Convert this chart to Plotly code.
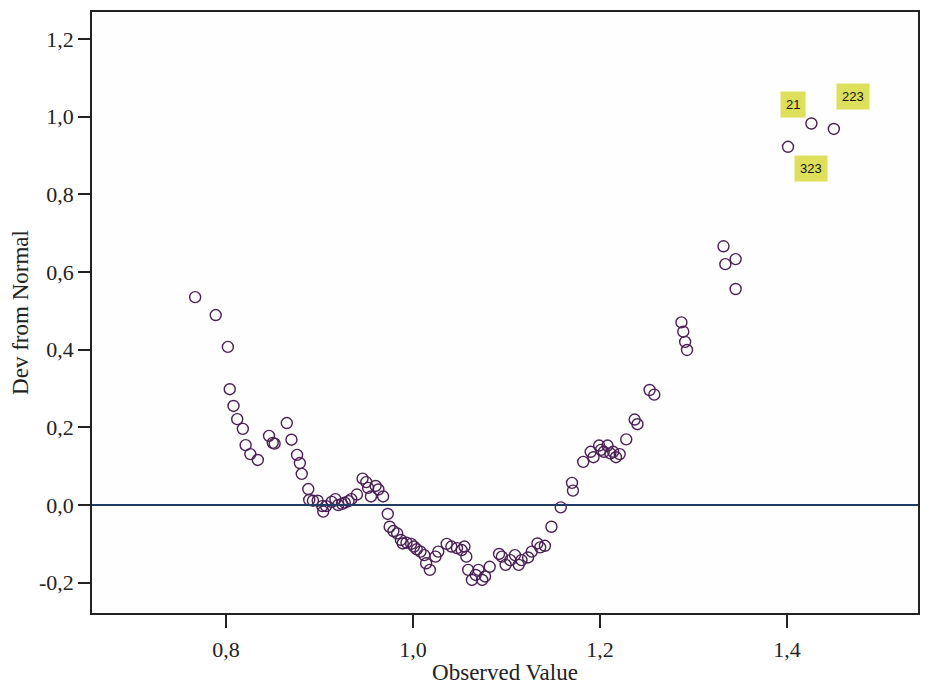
import plotly.graph_objects as go

obs_x = [0.767, 0.789, 0.802, 0.804, 0.808, 0.812, 0.818, 0.821, 0.826, 0.834,
         0.846, 0.850, 0.852, 0.865, 0.870, 0.876, 0.879, 0.881,
         0.888, 0.889, 0.893, 0.898, 0.903, 0.904, 0.907, 0.913, 0.917, 0.920,
         0.924, 0.927, 0.931, 0.934, 0.940, 0.946, 0.950, 0.952, 0.955, 0.960,
         0.963, 0.968, 0.973, 0.975, 0.979, 0.983, 0.987, 0.989, 0.993, 0.998,
         1.001, 1.004, 1.008, 1.012, 1.014, 1.018, 1.024, 1.027,
         1.036, 1.041, 1.047, 1.052, 1.055, 1.057, 1.059, 1.063, 1.067, 1.070,
         1.074, 1.077, 1.082, 1.092, 1.095, 1.099, 1.104, 1.109, 1.113, 1.116,
         1.123, 1.127, 1.133, 1.136, 1.141, 1.148, 1.158,
         1.171, 1.170, 1.182, 1.190, 1.193, 1.199, 1.201, 1.204, 1.208, 1.211,
         1.214, 1.217, 1.221, 1.228, 1.237, 1.240, 1.253, 1.258,
         1.287, 1.289, 1.291, 1.293, 1.332, 1.334, 1.345, 1.345,
         1.401, 1.426, 1.450]
dev_y = [0.535, 0.489, 0.407, 0.298, 0.255, 0.221, 0.196, 0.154, 0.131, 0.116,
         0.178, 0.160, 0.158, 0.211, 0.168, 0.129, 0.108, 0.080,
         0.041, 0.013, 0.011, 0.011, -0.003, -0.017, -0.003, 0.008, 0.015, 0.000,
         0.003, 0.006, 0.010, 0.015, 0.027, 0.068, 0.059, 0.044, 0.022, 0.049,
         0.040, 0.022, -0.023, -0.056, -0.067, -0.073, -0.090, -0.099, -0.097, -0.100,
         -0.107, -0.114, -0.120, -0.129, -0.150, -0.167, -0.133, -0.120,
         -0.100, -0.107, -0.111, -0.116, -0.107, -0.133, -0.167, -0.193, -0.180, -0.167,
         -0.193, -0.184, -0.159, -0.126, -0.133, -0.154, -0.142, -0.129, -0.154, -0.142,
         -0.135, -0.120, -0.099, -0.109, -0.105, -0.056, -0.006,
         0.037, 0.057, 0.111, 0.137, 0.123, 0.153, 0.142, 0.137, 0.153, 0.133,
         0.137, 0.123, 0.131, 0.169, 0.220, 0.208, 0.296, 0.284,
         0.470, 0.446, 0.420, 0.399, 0.666, 0.620, 0.633, 0.556,
         0.922, 0.982, 0.968]

label_text = ["21", "223", "323"]
label_x = [1.406, 1.470, 1.426]
label_y = [1.032, 1.052, 0.867]

x_ticks = [0.8, 1.0, 1.2, 1.4]
x_tick_labels = ["0,8", "1,0", "1,2", "1,4"]
y_ticks = [-0.2, 0.0, 0.2, 0.4, 0.6, 0.8, 1.0, 1.2]
y_tick_labels = ["-0,2", "0,0", "0,2", "0,4", "0,6", "0,8", "1,0", "1,2"]

fig = go.Figure()
fig.add_trace(go.Scatter(
    x=obs_x, y=dev_y, mode="markers",
    marker=dict(symbol="circle-open", size=11, color="#4a1f55",
                line=dict(width=1.4, color="#4a1f55")),
    showlegend=False, hoverinfo="x+y"))

fig.add_hline(y=0, line=dict(color="#1f3d66", width=2))

for t, x, y in zip(label_text, label_x, label_y):
    fig.add_annotation(x=x, y=y, text=t, showarrow=False,
                       font=dict(family="Liberation Sans, Arial", size=13, color="#111111"),
                       bgcolor="#dfe05a", borderpad=5)

serif = "Liberation Serif, DejaVu Serif, serif"
fig.update_layout(
    width=914, height=677,
    margin=dict(l=84, r=4, t=4, b=72),
    paper_bgcolor="white", plot_bgcolor="#fefefe",
    font=dict(family=serif, color="#222222"),
    xaxis=dict(range=[0.6567, 1.540], tickvals=x_ticks, ticktext=x_tick_labels,
               ticks="outside", ticklen=13, tickwidth=1.5, tickcolor="#222",
               showline=True, linecolor="#222", linewidth=1.5, mirror=True,
               showgrid=False, zeroline=False, automargin=False,
               ticklabelstandoff=3,
               tickfont=dict(family=serif, size=22),
               title=dict(text="Observed Value", font=dict(family=serif, size=23), standoff=18)),
    yaxis=dict(range=[-0.278, 1.269], tickvals=y_ticks, ticktext=y_tick_labels,
               ticks="outside", ticklen=12, tickwidth=1.5, tickcolor="#222",
               showline=True, linecolor="#222", linewidth=1.5, mirror=True,
               showgrid=False, zeroline=False, automargin=False,
               tickfont=dict(family=serif, size=22),
               title=dict(text="Dev from Normal", font=dict(family=serif, size=23), standoff=8)),
)

fig.write_html("out.html")
